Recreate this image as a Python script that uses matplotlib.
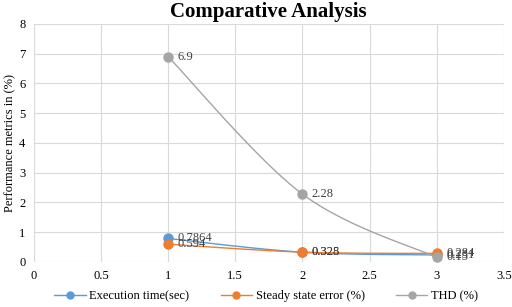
import numpy as np
import matplotlib.pyplot as plt

x = [1, 2, 3]
exec_time = [0.7864, 0.325, 0.231]
ss_error = [0.594, 0.328, 0.284]
thd = [6.9, 2.28, 0.15]
names = ["Execution time(sec)", "Steady state error (%)", "THD (%)"]
colors = ["#5B9BD5", "#ED7D31", "#A5A5A5"]

plt.rcParams['font.family'] = ['Liberation Serif', 'DejaVu Serif']


def smooth(xs, ys, n=40):
    # excel-style smoothed line (bezier, end points repeated)
    xs = np.asarray(xs, float)
    ys = np.asarray(ys, float)
    px = np.concatenate([[xs[0]], xs, [xs[-1]]])
    py = np.concatenate([[ys[0]], ys, [ys[-1]]])
    ox, oy = [], []
    t = np.linspace(0, 1, n)
    for i in range(1, len(px) - 2):
        for p, o in ((px, ox), (py, oy)):
            p0, p1, p2, p3 = p[i - 1], p[i], p[i + 1], p[i + 2]
            c1 = p1 + (p2 - p0) / 6
            c2 = p2 - (p3 - p1) / 6
            o.extend((1 - t) ** 3 * p1 + 3 * (1 - t) ** 2 * t * c1 + 3 * (1 - t) * t ** 2 * c2 + t ** 3 * p2)
    return ox, oy


fig = plt.figure(figsize=(5.12, 3.07), dpi=100)
ax = fig.add_axes([0.066, 0.147, 0.918, 0.775])

for ys, name, c in zip([exec_time, ss_error, thd], names, colors):
    sx, sy = smooth(x, ys)
    ax.plot(sx, sy, color=c, lw=1.0)
    ax.plot(x, ys, 'o', color=c, ms=6.5, label=name)
    for xi, yi in zip(x, ys):
        ax.text(xi + 0.07, yi, f"{yi:g}", fontsize=9, color="#404040", va="center")

handles = [plt.Line2D([], [], color=c, marker='o', ms=5, lw=1) for c in colors]
fig.legend(handles, names, loc="lower center", ncol=3, frameon=False, fontsize=9,
           bbox_to_anchor=(0.52, -0.02), handlelength=2.5, columnspacing=2.5,
           handletextpad=0.3)

ax.set_xlim(0, 3.5)
ax.set_ylim(0, 8)
ax.set_xticks(np.arange(0, 3.51, 0.5))
ax.set_xticklabels(["0", "0.5", "1", "1.5", "2", "2.5", "3", "3.5"])
ax.set_yticks(range(0, 9))
ax.tick_params(length=0, labelsize=9, pad=6)
ax.grid(color="#D9D9D9", lw=0.8)
ax.set_axisbelow(True)
for s in ax.spines.values():
    s.set_visible(False)
ax.set_ylabel("Performance metrics in (%)", fontsize=9, labelpad=2)
ax.set_title("Comparative Analysis", fontsize=15, fontweight="bold", pad=5)

fig.savefig("out.png", dpi=100)
